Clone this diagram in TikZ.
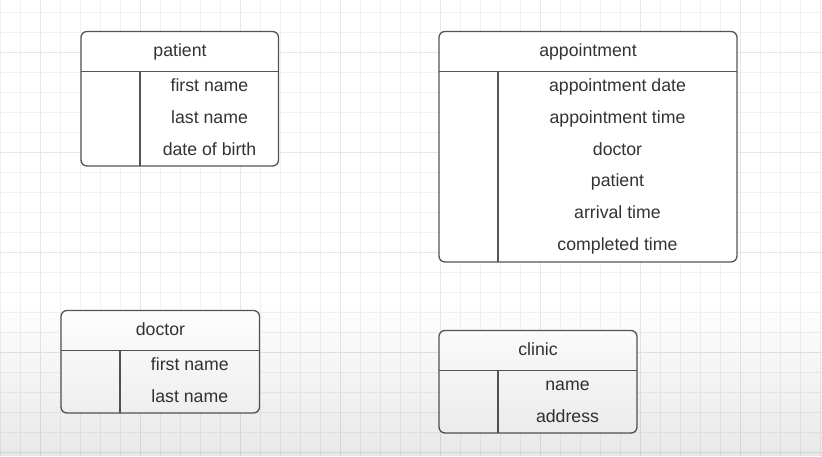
\documentclass[tikz,border=0pt]{standalone}
\usepackage{fontspec}
\setmainfont{Liberation Sans}
\usetikzlibrary{fadings}
\definecolor{gridminor}{HTML}{F1F1F3}
\definecolor{gridmajor}{HTML}{E7E7EB}
\definecolor{boxline}{HTML}{555555}
\definecolor{txt}{HTML}{333333}
\tikzset{
  entbox/.style={draw=boxline, line width=1.3pt, rounded corners=6pt, fill=white},
  divline/.style={draw=boxline, line width=1.3pt},
  lbl/.style={text=txt, font=\fontsize{17.7}{20}\selectfont, inner sep=0pt, anchor=base},
}
\begin{document}
\begin{tikzpicture}[x=1pt,y=-1pt]
\useasboundingbox (0,0) rectangle (822,456);
\fill[white] (0,0) rectangle (822,456);
% grid
\foreach \x in {0,20,...,820} \draw[gridminor, line width=0.8pt] (\x,0) -- (\x,456);
\foreach \y in {12,32,...,452} \draw[gridminor, line width=0.8pt] (0,\y) -- (822,\y);
\foreach \x in {40,140,...,740} \draw[gridmajor, line width=0.9pt] (\x,0) -- (\x,456);
\foreach \y in {52,152,...,452} \draw[gridmajor, line width=0.9pt] (0,\y) -- (822,\y);

% patient
\draw[entbox] (81,31.5) rectangle (278.5,166);
\coordinate (pL) at (81,71.5); \coordinate (pR) at (278.5,71.5);
\coordinate (pT) at (140,71.5); \coordinate (pB) at (140,166);
\draw[divline] (pL) -- (pR);
\draw[divline] (pT) -- (pB);
\node[lbl] (pH) at (180,56) {patient};
\node[lbl] (p1) at (209.5,91.7) {first name};
\node[lbl] (p2) at (209.5,123.4) {last name};
\node[lbl] (p3) at (209.5,155.1) {date of birth};

% appointment
\draw[entbox] (439,31.5) rectangle (737,262);
\coordinate (aL) at (439,71.5); \coordinate (aR) at (737,71.5);
\coordinate (aT) at (498,71.5); \coordinate (aB) at (498,262);
\draw[divline] (aL) -- (aR);
\draw[divline] (aT) -- (aB);
\node[lbl] (aH) at (588,56) {appointment};
\node[lbl] (a1) at (617.5,91.7) {appointment date};
\node[lbl] (a2) at (617.5,123.4) {appointment time};
\node[lbl] (a3) at (617.5,155.1) {doctor};
\node[lbl] (a4) at (617.5,186.8) {patient};
\node[lbl] (a5) at (617.5,218.5) {arrival time};
\node[lbl] (a6) at (617.5,250.2) {completed time};

% doctor
\draw[entbox] (61,310.5) rectangle (259.5,413);
\coordinate (dL) at (61,350.5); \coordinate (dR) at (259.5,350.5);
\coordinate (dT) at (120,350.5); \coordinate (dB) at (120,413);
\draw[divline] (dL) -- (dR);
\draw[divline] (dT) -- (dB);
\node[lbl] (dH) at (160.5,335) {doctor};
\node[lbl] (d1) at (189.8,370.5) {first name};
\node[lbl] (d2) at (189.8,402.2) {last name};

% clinic
\draw[entbox] (439,330.5) rectangle (637,433);
\coordinate (cL) at (439,370.5); \coordinate (cR) at (637,370.5);
\coordinate (cT) at (498,370.5); \coordinate (cB) at (498,433);
\draw[divline] (cL) -- (cR);
\draw[divline] (cT) -- (cB);
\node[lbl] (cH) at (538,355) {clinic};
\node[lbl] (c1) at (567.5,390.5) {name};
\node[lbl] (c2) at (567.5,422.2) {address};

% bottom shading overlay
\fill[black, path fading=north, fill opacity=0.09] (0,300) rectangle (822,456);
\end{tikzpicture}
\end{document}
